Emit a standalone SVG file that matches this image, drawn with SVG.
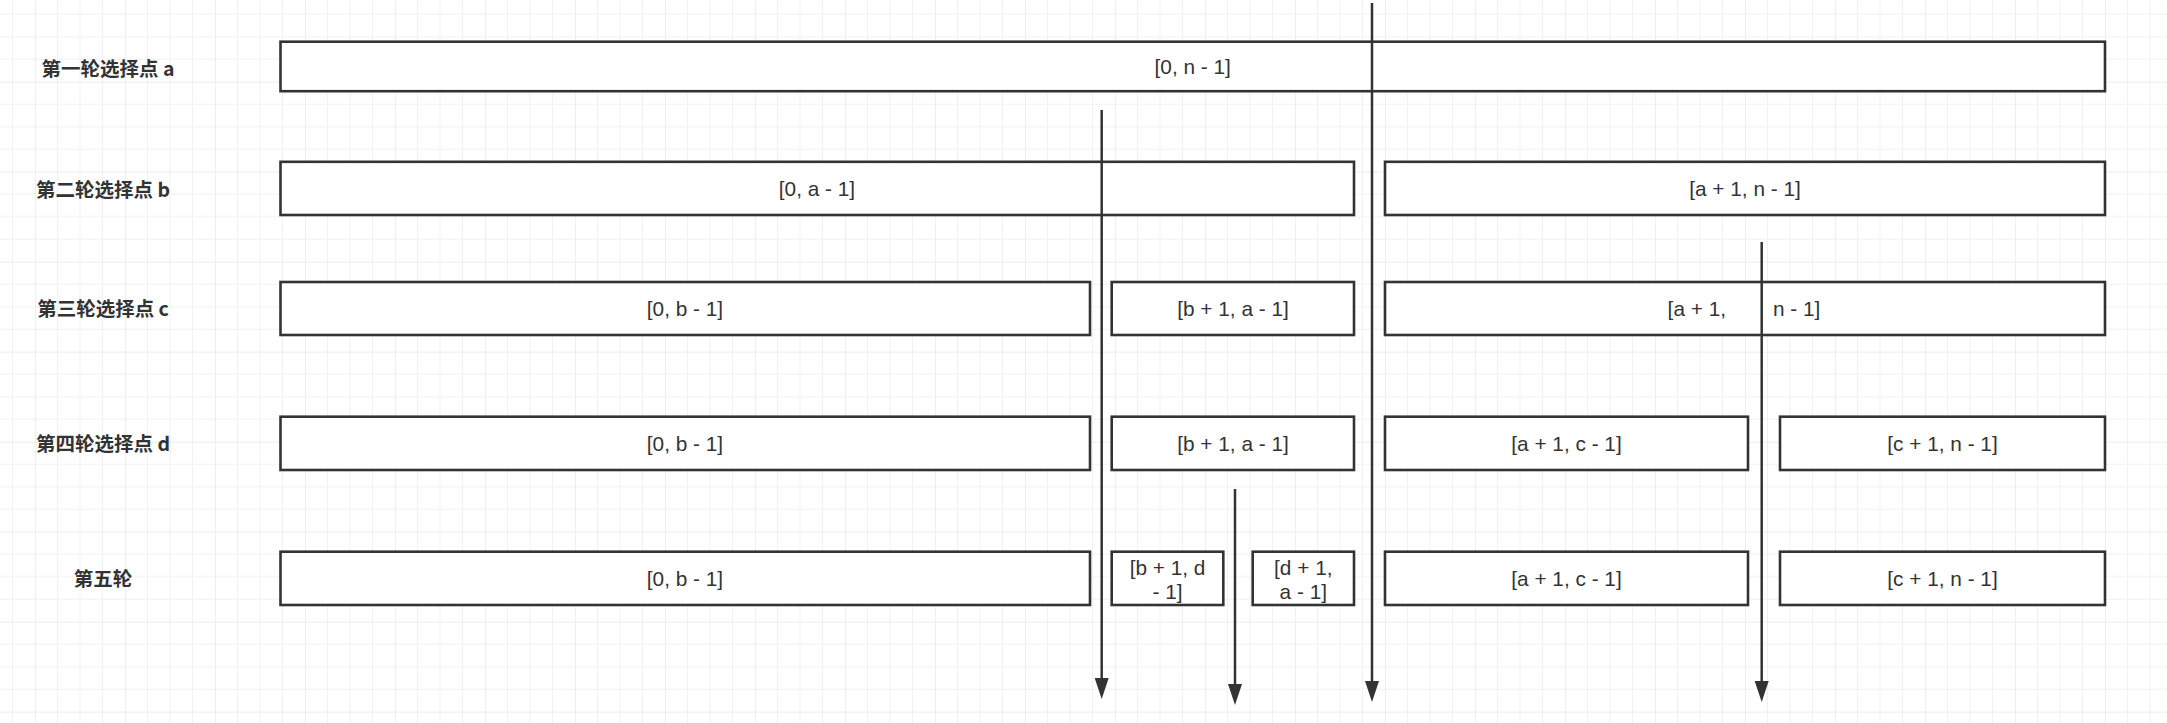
<svg xmlns="http://www.w3.org/2000/svg" width="2167" height="723" viewBox="0 0 2167 723">
  <style>
    .box { fill: #ffffff; stroke: #333333; stroke-width: 2.6; }
    .t { font-family: "Liberation Sans", Arial, sans-serif; font-size: 20.8px; fill: #333333; text-anchor: middle; }
    .lbl { font-family: "Noto Sans CJK SC", "Liberation Sans", sans-serif; font-size: 19.5px; font-weight: bold; fill: #333333; text-anchor: middle; }
    .edge { fill: none; stroke: #333333; stroke-width: 2.5; }
  </style>
  <defs>
    <pattern id="grid" patternUnits="userSpaceOnUse" x="35" y="81.7" width="90" height="90">
      <path d="M22.5 0V90M45 0V90M67.5 0V90M0 22.5H90M0 45H90M0 67.5H90" fill="none" stroke="#f1f1f1" stroke-width="1"/>
      <path d="M0 0V90M0 0H90" fill="none" stroke="#e6e6e6" stroke-width="1.3"/>
    </pattern>
    <marker id="arrow" markerUnits="userSpaceOnUse" viewBox="0 0 21 14" markerWidth="21" markerHeight="14" refX="6" refY="7" orient="auto">
      <path d="M0 0L21 7L0 14Z" fill="#333333"/>
    </marker>
  </defs>
  <rect x="0" y="0" width="2167" height="723" fill="#ffffff"/>
  <rect x="0" y="0" width="2167" height="723" fill="url(#grid)"/>

  <g id="labels">
    <text id="label1" class="lbl" x="108" y="75.7">第一轮选择点 a</text>
    <text id="label2" class="lbl" x="103" y="197.4">第二轮选择点 b</text>
    <text id="label3" class="lbl" x="103" y="316.4">第三轮选择点 c</text>
    <text id="label4" class="lbl" x="103" y="451.4">第四轮选择点 d</text>
    <text id="label5" class="lbl" x="103" y="586.4">第五轮</text>
  </g>

  <g id="r1-all">
    <rect class="box" x="280.5" y="41.7" width="1824.5" height="49.5"/>
    <text class="t" x="1192.7" y="74">[0, n - 1]</text>
  </g>

  <g id="r2-left">
    <rect class="box" x="280.5" y="161.8" width="1073.5" height="53.2"/>
    <text class="t" x="817" y="196">[0, a - 1]</text>
  </g>
  <g id="r2-right">
    <rect class="box" x="1385" y="161.8" width="720" height="53.2"/>
    <text class="t" x="1745" y="196">[a + 1, n - 1]</text>
  </g>

  <g id="r3-left">
    <rect class="box" x="280.5" y="282" width="809.5" height="53"/>
    <text class="t" x="685" y="316">[0, b - 1]</text>
  </g>
  <g id="r3-mid">
    <rect class="box" x="1111.7" y="282" width="242.3" height="53"/>
    <text class="t" x="1233" y="316">[b + 1, a - 1]</text>
  </g>
  <g id="r3-right">
    <rect class="box" x="1385" y="282" width="720" height="53"/>
    <text class="t" x="1726" y="316" style="text-anchor:end">[a + 1,</text>
    <text class="t" x="1773" y="316" style="text-anchor:start">n - 1]</text>
  </g>

  <g id="r4-left">
    <rect class="box" x="280.5" y="416.7" width="809.5" height="53.3"/>
    <text class="t" x="685" y="451">[0, b - 1]</text>
  </g>
  <g id="r4-mid">
    <rect class="box" x="1111.7" y="416.7" width="242.3" height="53.3"/>
    <text class="t" x="1233" y="451">[b + 1, a - 1]</text>
  </g>
  <g id="r4-right1">
    <rect class="box" x="1385" y="416.7" width="363" height="53.3"/>
    <text class="t" x="1566.5" y="451">[a + 1, c - 1]</text>
  </g>
  <g id="r4-right2">
    <rect class="box" x="1780" y="416.7" width="325" height="53.3"/>
    <text class="t" x="1942.5" y="451">[c + 1, n - 1]</text>
  </g>

  <g id="r5-left">
    <rect class="box" x="280.5" y="551.7" width="809.5" height="53.3"/>
    <text class="t" x="685" y="586">[0, b - 1]</text>
  </g>
  <g id="r5-mid1">
    <rect class="box" x="1111.7" y="551.7" width="111.6" height="53.3"/>
    <text class="t" x="1167.5" y="574.5">[b + 1, d</text>
    <text class="t" x="1167.5" y="598.5">- 1]</text>
  </g>
  <g id="r5-mid2">
    <rect class="box" x="1252.7" y="551.7" width="101.3" height="53.3"/>
    <text class="t" x="1303.3" y="574.5">[d + 1,</text>
    <text class="t" x="1303.3" y="598.5">a - 1]</text>
  </g>
  <g id="r5-right1">
    <rect class="box" x="1385" y="551.7" width="363" height="53.3"/>
    <text class="t" x="1566.5" y="586">[a + 1, c - 1]</text>
  </g>
  <g id="r5-right2">
    <rect class="box" x="1780" y="551.7" width="325" height="53.3"/>
    <text class="t" x="1942.5" y="586">[c + 1, n - 1]</text>
  </g>

  <g id="connectors">
    <line class="edge" x1="1101.7" y1="110" x2="1101.7" y2="684" marker-end="url(#arrow)"/>
    <line class="edge" x1="1235" y1="489" x2="1235" y2="690" marker-end="url(#arrow)"/>
    <line class="edge" x1="1372" y1="3" x2="1372" y2="687" marker-end="url(#arrow)"/>
    <line class="edge" x1="1761.7" y1="242" x2="1761.7" y2="687" marker-end="url(#arrow)"/>
  </g>
</svg>
